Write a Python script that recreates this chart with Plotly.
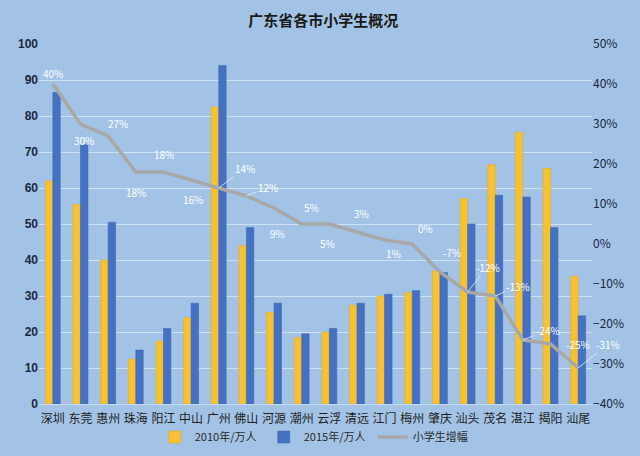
import plotly.graph_objects as go

cities = ["深圳", "东莞", "惠州", "珠海", "阳江", "中山", "广州", "佛山", "河源", "潮州",
          "云浮", "清远", "江门", "梅州", "肇庆", "汕头", "茂名", "湛江", "揭阳", "汕尾"]
y2010 = [62, 55.5, 40, 12.5, 17.5, 24, 82.5, 44, 25.5, 18.5,
         20, 27.5, 30, 31, 37, 57, 66.5, 75.5, 65.5, 35.5]
y2015 = [86.5, 72, 50.5, 15, 21, 28, 94, 49, 28, 19.5,
         21, 28, 30.5, 31.5, 36.5, 50, 58, 57.5, 49, 24.5]
growth = [0.40, 0.30, 0.27, 0.18, 0.18, 0.16, 0.14, 0.12, 0.09, 0.05,
          0.05, 0.03, 0.01, 0.00, -0.07, -0.12, -0.13, -0.24, -0.25, -0.31]
growth_labels = ["40%", "30%", "27%", "18%", "18%", "16%", "14%", "12%", "9%", "5%",
                 "5%", "3%", "1%", "0%", "-7%", "-12%", "-13%", "-24%", "-25%", "-31%"]

# label offsets (pixels, dx right, dy down) and leader-line flags
lab_dx = [0, 4, 10, 0, 1, 2, 26, 22, 3, 10, -2, 5, 9, 13, 12, 20, 23, 25, 27, 30]
lab_dy = [-11, 16, -13, 20, -18, 19, -20, -9, 25, -17, 19, -19, 13, -16, -20, -25, -10, -10, 0, -24]
leader = [False, False, False, False, False, False, True, True, False, False,
          False, False, False, False, False, True, True, True, False, True]

font_cjk = "Noto Sans CJK SC"
bg = "#a3c3e6"

fig = go.Figure()
fig.add_trace(go.Bar(x=cities, y=y2010, name="2010年/万人",
                     marker=dict(color="#f7c132", line=dict(color="#e0a820", width=0.5))))
fig.add_trace(go.Bar(x=cities, y=y2015, name="2015年/万人",
                     marker=dict(color="#4571c2", line=dict(color="#3a62aa", width=0.5))))
fig.add_trace(go.Scatter(x=cities, y=growth, name="小学生增幅", yaxis="y2",
                         mode="lines", line=dict(color="#a8a8a8", width=3.5)))

for c, g, t, dx, dy, ld in zip(cities, growth, growth_labels, lab_dx, lab_dy, leader):
    if ld:
        fig.add_annotation(x=c, y=g, yref="y2", text=t, showarrow=True, ax=dx, ay=dy,
                           arrowhead=0, arrowwidth=0.8, arrowcolor="#e8f0f8", standoff=0,
                           font=dict(family=font_cjk, size=10, color="#ffffff"))
    else:
        fig.add_annotation(x=c, y=g, yref="y2", text=t, showarrow=False,
                           xshift=dx, yshift=-dy,
                           font=dict(family=font_cjk, size=10, color="#ffffff"))

fig.update_layout(
    width=640, height=456,
    paper_bgcolor=bg, plot_bgcolor=bg,
    margin=dict(l=39, r=48, t=44, b=52, autoexpand=False),
    title=dict(text="<b>广东省各市小学生概况</b>", x=0.505, xanchor="center", y=0.955, yanchor="middle",
               font=dict(family=font_cjk, size=15, color="#1a1a1a")),
    barmode="group", bargap=0.46, bargroupgap=0,
    showlegend=True,
    legend=dict(orientation="h", x=0.505, xanchor="center", y=-0.092, yanchor="middle",
                font=dict(family=font_cjk, size=11, color="#2a2a2a"),
                entrywidth=64, entrywidthmode="pixels", itemwidth=30,
                bgcolor="rgba(0,0,0,0)", tracegroupgap=0),
    xaxis=dict(tickfont=dict(family=font_cjk, size=12, color="#1e1e1e"), tickangle=0,
               range=[-0.5, len(cities) - 0.5], autorange=False,
               showgrid=False, showline=True, linecolor="#c9dcf1", linewidth=1,
               ticks="", ticklen=0, automargin=False, ticklabelstandoff=4),
    yaxis=dict(range=[0, 100], dtick=10, showgrid=True, gridcolor="#cde0f4", gridwidth=1,
               zeroline=False, tickfont=dict(family="Liberation Sans", size=12, color="#1c2740"),
               tickprefix="<b>", ticksuffix="</b>", ticklen=0, ticks="", automargin=False),
    yaxis2=dict(range=[-0.4, 0.5], dtick=0.1, tickformat=".0%", overlaying="y", side="right",
                showgrid=False, zeroline=False, automargin=False,
                tickfont=dict(family=font_cjk, size=12, color="#1c2740"), ticks=""),
)

fig.write_html("out.html")
